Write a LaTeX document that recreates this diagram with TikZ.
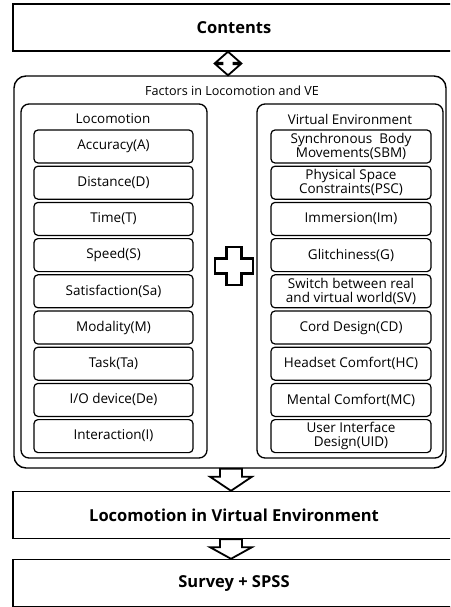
\documentclass[tikz,border=0pt]{standalone}
\usepackage{fontspec}
\setmainfont{Open Sans}
\usetikzlibrary{calc}
\begin{document}
\begin{tikzpicture}[x=1pt,y=-1pt,
  stage/.style={draw, line width=1.4pt, minimum width=442pt, minimum height=47pt,
    inner sep=0pt, font=\fontsize{16.5}{18}\selectfont\bfseries},
  frame/.style={draw, line width=1.4pt, rounded corners=12pt, minimum width=432pt,
    minimum height=392pt, inner sep=0pt},
  group/.style={draw, line width=1.3pt, rounded corners=8pt, minimum width=186pt,
    minimum height=354pt, inner sep=0pt},
  head/.style={font=\fontsize{13.4}{14}\selectfont, inner sep=0pt},
  item/.style={draw, line width=1.2pt, rounded corners=4pt, minimum width=#1,
    minimum height=33pt, inner sep=0pt, align=center,
    font=\fontsize{13.5}{14}\selectfont},
  item/.default=159pt,
  blockarrow/.style={draw, line width=1.8pt, fill=white, line join=miter}]
\useasboundingbox (0,0) rectangle (450,607);
\clip (0,0) rectangle (450,607);

% top stage
\node[stage] (contents) at (234,27.5) {Contents};

% factor frame with its two groups
\node[frame] (factors) at (230,272) {};
\node[head, font=\fontsize{12.6}{14}\selectfont] (factitle) at (232,91) {Factors in Locomotion and VE};
\node[group] (loco) at (114,281) {};
\node[group] (ve) at (350,281) {};
\node[head] (locotitle) at (113,119) {Locomotion};
\node[head] (vetitle) at (350,119) {Virtual Environment};

% locomotion factors
\foreach \t [count=\i from 0] in {Accuracy(A),Distance(D),Time(T),Speed(S),
  Satisfaction(Sa),Modality(M),Task(Ta),I/O device(De),Interaction(I)}
  \node[item] (l\i) at (113.5,146.5+36.2*\i) {\t};

% virtual environment factors
\foreach \t [count=\i from 0] in {Synchronous~~Body\\Movements(SBM),
  Physical Space\\Constraints(PSC),Immersion(Im),Glitchiness(G),
  Switch between real\\and virtual world(SV),Cord Design(CD),
  Headset Comfort(HC),Mental Comfort(MC),User Interface\\Design(UID)}
  \node[item=160pt] (v\i) at (351,146.5+36.2*\i) {\t};

% plus sign between the groups
\coordinate (plus) at (234,266);
\draw[line width=2.4pt, line join=miter]
  ($(plus)+(-7.5,-19)$) -- ($(plus)+(7.5,-19)$) -- ($(plus)+(7.5,-7.5)$)
  -- ($(plus)+(19,-7.5)$) -- ($(plus)+(19,7.5)$) -- ($(plus)+(7.5,7.5)$)
  -- ($(plus)+(7.5,19)$) -- ($(plus)+(-7.5,19)$) -- ($(plus)+(-7.5,7.5)$)
  -- ($(plus)+(-19,7.5)$) -- ($(plus)+(-19,-7.5)$) -- ($(plus)+(-7.5,-7.5)$) -- cycle;

% lower stages
\node[stage] (lve) at (234,515) {Locomotion in Virtual Environment};
\node[stage] (survey) at (234,583) {Survey + SPSS};

% two-way block arrow between contents and factors
\draw[blockarrow] let \p1=($(contents.south)+(-6,0)$), \p2=(factors.north) in
  (\x1,\y1) -- (\x1+12.5pt,\y1-11pt) -- (\x1+5.5pt,\y1-11pt)
  -- (\x1+5.5pt,\y2+11pt) -- (\x1+12.5pt,\y2+11pt) -- (\x1,\y2)
  -- (\x1-12.5pt,\y2+11pt) -- (\x1-5.5pt,\y2+11pt) -- (\x1-5.5pt,\y1-11pt)
  -- (\x1-12.5pt,\y1-11pt) -- cycle;

% one-way block arrows downwards
\draw[blockarrow] let \p1=($(factors.south)+(1,0)$), \p2=(lve.north) in
  (\x1-11pt,\y1) -- (\x1+11pt,\y1) -- (\x1+11pt,\y1-8pt) -- (\x1+21pt,\y1-8pt)
  -- (\x1,\y2) -- (\x1-21pt,\y1-8pt) -- (\x1-11pt,\y1-8pt) -- cycle;
\draw[blockarrow] let \p1=($(lve.south)+(-3,0)$), \p2=(survey.north) in
  (\x1-11pt,\y1) -- (\x1+11pt,\y1) -- (\x1+11pt,\y1-8pt) -- (\x1+21pt,\y1-8pt)
  -- (\x1,\y2) -- (\x1-21pt,\y1-8pt) -- (\x1-11pt,\y1-8pt) -- cycle;
\end{tikzpicture}
\end{document}
